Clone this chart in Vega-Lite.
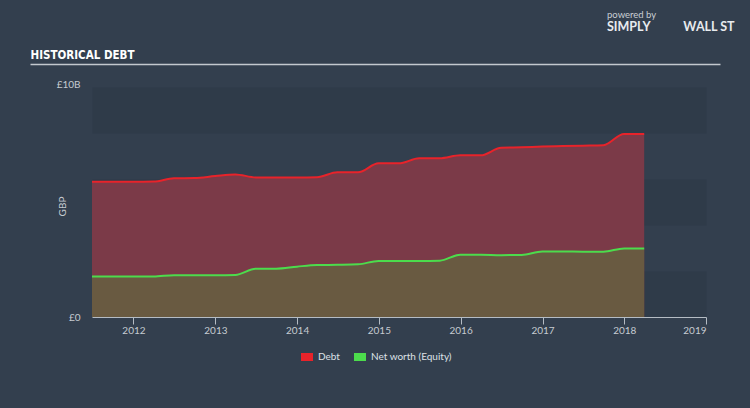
{
  "$schema": "https://vega.github.io/schema/vega-lite/v6.json",
  "width": 614,
  "height": 230,
  "autosize": {"type": "none"},
  "padding": {"left": 92, "top": 87, "right": 44, "bottom": 91},
  "background": "#333f4e",
  "title": {
    "text": "powered by",
    "subtitle": "SIMPLY\u00a0\u00a0\u00a0\u00a0\u00a0\u00a0\u00a0\u00a0\u00a0\u00a0\u00a0WALL\u00a0ST",
    "anchor": "start",
    "frame": "group",
    "dx": 515,
    "dy": -12,
    "font": "Lato",
    "fontSize": 9.5,
    "fontWeight": "normal",
    "color": "#c9ced4",
    "subtitleFont": "Lato",
    "subtitleFontSize": 12.5,
    "subtitleFontWeight": "bold",
    "subtitleColor": "#e8ebee",
    "subtitlePadding": 1
  },
  "data": {
    "values": [
      {"date": "2011-06-30", "series": "Debt", "value": 5.88e9},
      {"date": "2011-09-30", "series": "Debt", "value": 5.88e9},
      {"date": "2011-12-31", "series": "Debt", "value": 5.88e9},
      {"date": "2012-03-31", "series": "Debt", "value": 5.89e9},
      {"date": "2012-06-30", "series": "Debt", "value": 6.03e9},
      {"date": "2012-09-30", "series": "Debt", "value": 6.04e9},
      {"date": "2012-12-31", "series": "Debt", "value": 6.13e9},
      {"date": "2013-03-31", "series": "Debt", "value": 6.2e9},
      {"date": "2013-06-30", "series": "Debt", "value": 6.07e9},
      {"date": "2013-09-30", "series": "Debt", "value": 6.07e9},
      {"date": "2013-12-31", "series": "Debt", "value": 6.07e9},
      {"date": "2014-03-31", "series": "Debt", "value": 6.08e9},
      {"date": "2014-06-30", "series": "Debt", "value": 6.29e9},
      {"date": "2014-09-30", "series": "Debt", "value": 6.29e9},
      {"date": "2014-12-31", "series": "Debt", "value": 6.68e9},
      {"date": "2015-03-31", "series": "Debt", "value": 6.68e9},
      {"date": "2015-06-30", "series": "Debt", "value": 6.9e9},
      {"date": "2015-09-30", "series": "Debt", "value": 6.9e9},
      {"date": "2015-12-31", "series": "Debt", "value": 7.03e9},
      {"date": "2016-03-31", "series": "Debt", "value": 7.03e9},
      {"date": "2016-06-30", "series": "Debt", "value": 7.36e9},
      {"date": "2016-09-30", "series": "Debt", "value": 7.38e9},
      {"date": "2016-12-31", "series": "Debt", "value": 7.41e9},
      {"date": "2017-03-31", "series": "Debt", "value": 7.43e9},
      {"date": "2017-06-30", "series": "Debt", "value": 7.45e9},
      {"date": "2017-09-30", "series": "Debt", "value": 7.47e9},
      {"date": "2017-12-31", "series": "Debt", "value": 7.96e9},
      {"date": "2018-03-31", "series": "Debt", "value": 7.96e9},
      {"date": "2011-06-30", "series": "Net worth (Equity)", "value": 1.76e9},
      {"date": "2011-09-30", "series": "Net worth (Equity)", "value": 1.76e9},
      {"date": "2011-12-31", "series": "Net worth (Equity)", "value": 1.76e9},
      {"date": "2012-03-31", "series": "Net worth (Equity)", "value": 1.76e9},
      {"date": "2012-06-30", "series": "Net worth (Equity)", "value": 1.82e9},
      {"date": "2012-09-30", "series": "Net worth (Equity)", "value": 1.82e9},
      {"date": "2012-12-31", "series": "Net worth (Equity)", "value": 1.82e9},
      {"date": "2013-03-31", "series": "Net worth (Equity)", "value": 1.83e9},
      {"date": "2013-06-30", "series": "Net worth (Equity)", "value": 2.1e9},
      {"date": "2013-09-30", "series": "Net worth (Equity)", "value": 2.1e9},
      {"date": "2013-12-31", "series": "Net worth (Equity)", "value": 2.19e9},
      {"date": "2014-03-31", "series": "Net worth (Equity)", "value": 2.26e9},
      {"date": "2014-06-30", "series": "Net worth (Equity)", "value": 2.27e9},
      {"date": "2014-09-30", "series": "Net worth (Equity)", "value": 2.29e9},
      {"date": "2014-12-31", "series": "Net worth (Equity)", "value": 2.44e9},
      {"date": "2015-03-31", "series": "Net worth (Equity)", "value": 2.44e9},
      {"date": "2015-06-30", "series": "Net worth (Equity)", "value": 2.44e9},
      {"date": "2015-09-30", "series": "Net worth (Equity)", "value": 2.45e9},
      {"date": "2015-12-31", "series": "Net worth (Equity)", "value": 2.71e9},
      {"date": "2016-03-31", "series": "Net worth (Equity)", "value": 2.71e9},
      {"date": "2016-06-30", "series": "Net worth (Equity)", "value": 2.69e9},
      {"date": "2016-09-30", "series": "Net worth (Equity)", "value": 2.7e9},
      {"date": "2016-12-31", "series": "Net worth (Equity)", "value": 2.85e9},
      {"date": "2017-03-31", "series": "Net worth (Equity)", "value": 2.85e9},
      {"date": "2017-06-30", "series": "Net worth (Equity)", "value": 2.84e9},
      {"date": "2017-09-30", "series": "Net worth (Equity)", "value": 2.84e9},
      {"date": "2017-12-31", "series": "Net worth (Equity)", "value": 2.98e9},
      {"date": "2018-03-31", "series": "Net worth (Equity)", "value": 2.98e9}
    ]
  },
  "layer": [
    {
      "transform": [{"filter": "datum.series === 'Debt'"}],
      "mark": {"type": "area", "interpolate": "monotone", "fill": "#7b3a48"},
      "encoding": {
        "x": {
          "field": "date",
          "type": "temporal",
          "scale": {"type": "utc", "domain": [{"year": 2011, "month": 6, "date": 30, "utc": true}, {"year": 2019, "month": 1, "date": 1, "utc": true}]},
          "axis": {
            "orient": "bottom",
            "values": [
              {"year": 2012, "month": 1, "date": 1, "utc": true},
              {"year": 2013, "month": 1, "date": 1, "utc": true},
              {"year": 2014, "month": 1, "date": 1, "utc": true},
              {"year": 2015, "month": 1, "date": 1, "utc": true},
              {"year": 2016, "month": 1, "date": 1, "utc": true},
              {"year": 2017, "month": 1, "date": 1, "utc": true},
              {"year": 2018, "month": 1, "date": 1, "utc": true},
              {"year": 2019, "month": 1, "date": 1, "utc": true}
            ],
            "format": "%Y",
            "grid": false,
            "domainColor": "#b5bcc4",
            "domainWidth": 1,
            "tickColor": "#b5bcc4",
            "tickSize": 7,
            "labelPadding": 1,
            "labelColor": "#c6cbd1",
            "labelFont": "Lato",
            "labelFontSize": 10,
            "title": null
          }
        },
        "y": {
          "field": "value",
          "type": "quantitative",
          "scale": {"domain": [0, 10000000000]},
          "axis": {
            "orient": "right",
            "values": [1000000000, 5000000000, 9000000000],
            "grid": true,
            "gridColor": "#2f3b49",
            "gridWidth": 46,
            "gridOpacity": 1,
            "domain": false,
            "ticks": false,
            "labels": false,
            "title": null
          }
        }
      }
    },
    {
      "transform": [{"filter": "datum.series !== 'Debt'"}],
      "mark": {"type": "area", "interpolate": "monotone", "fill": "#695a41"},
      "encoding": {
        "x": {
          "field": "date",
          "type": "temporal",
          "scale": {"type": "utc", "domain": [{"year": 2011, "month": 6, "date": 30, "utc": true}, {"year": 2019, "month": 1, "date": 1, "utc": true}]},
          "axis": null
        },
        "y": {
          "field": "value",
          "type": "quantitative",
          "axis": {
            "orient": "left",
            "values": [0, 10000000000],
            "grid": false,
            "domain": false,
            "ticks": false,
            "labelPadding": 12,
            "labelFlush": false,
            "labelExpr": "datum.value == 0 ? '£0' : '£' + format(datum.value / 1e9, 'd') + 'B'",
            "labelBaseline": {"condition": {"test": "datum.value > 0", "value": "alphabetic"}, "value": "middle"},
            "labelColor": "#c6cbd1",
            "labelFont": "Lato",
            "labelFontSize": 10,
            "title": "GBP",
            "titleX": -30,
            "titleY": 119,
            "titleAngle": -90,
            "titleAlign": "center",
            "titleBaseline": "middle",
            "titleColor": "#c6cbd1",
            "titleFont": "Lato",
            "titleFontSize": 10,
            "titleFontWeight": "normal"
          }
        }
      }
    },
    {
      "mark": {"type": "line", "interpolate": "monotone", "strokeWidth": 2},
      "encoding": {
        "x": {
          "field": "date",
          "type": "temporal",
          "scale": {"type": "utc", "domain": [{"year": 2011, "month": 6, "date": 30, "utc": true}, {"year": 2019, "month": 1, "date": 1, "utc": true}]},
          "axis": null
        },
        "y": {"field": "value", "type": "quantitative", "axis": null},
        "color": {
          "field": "series",
          "type": "nominal",
          "scale": {"domain": ["Debt", "Net worth (Equity)"], "range": ["#e8232a", "#4cdc4c"]},
          "legend": {
            "orient": "none",
            "legendX": 209,
            "legendY": 264,
            "direction": "horizontal",
            "title": null,
            "symbolType": "M-1,-0.67H1V0.67H-1Z",
            "symbolSize": 144,
            "symbolStrokeWidth": 0,
            "labelFont": "Lato",
            "labelFontSize": 10,
            "labelColor": "#dde1e6",
            "labelOffset": 5,
            "columnPadding": 14,
            "padding": 0,
            "encode": {"symbols": {"update": {"fill": {"scale": "color", "field": "value"}, "fillOpacity": {"value": 1}}}}
          }
        }
      }
    },
    {
      "mark": {"type": "point", "opacity": 0},
      "encoding": {
        "x": {
          "field": "date",
          "type": "temporal",
          "scale": {"type": "utc", "range": [-62, 628]},
          "axis": {
            "orient": "top",
            "offset": 23,
            "domain": true,
            "domainColor": "#c3c8ce",
            "domainWidth": 1.5,
            "ticks": false,
            "labels": false,
            "grid": false,
            "title": "HISTORICAL DEBT",
            "titleX": -62,
            "titleY": -6,
            "titleAlign": "left",
            "titleBaseline": "alphabetic",
            "titleAngle": 0,
            "titleFont": "Liberation Sans Narrow, DejaVu Sans Condensed, sans-serif",
            "titleFontSize": 11.5,
            "titleFontWeight": "bold",
            "titleColor": "#ffffff"
          }
        },
        "y": {"field": "value", "type": "quantitative", "axis": null}
      }
    }
  ],
  "resolve": {"scale": {"x": "independent"}, "axis": {"x": "independent", "y": "independent"}},
  "config": {"view": {"stroke": null}}
}
